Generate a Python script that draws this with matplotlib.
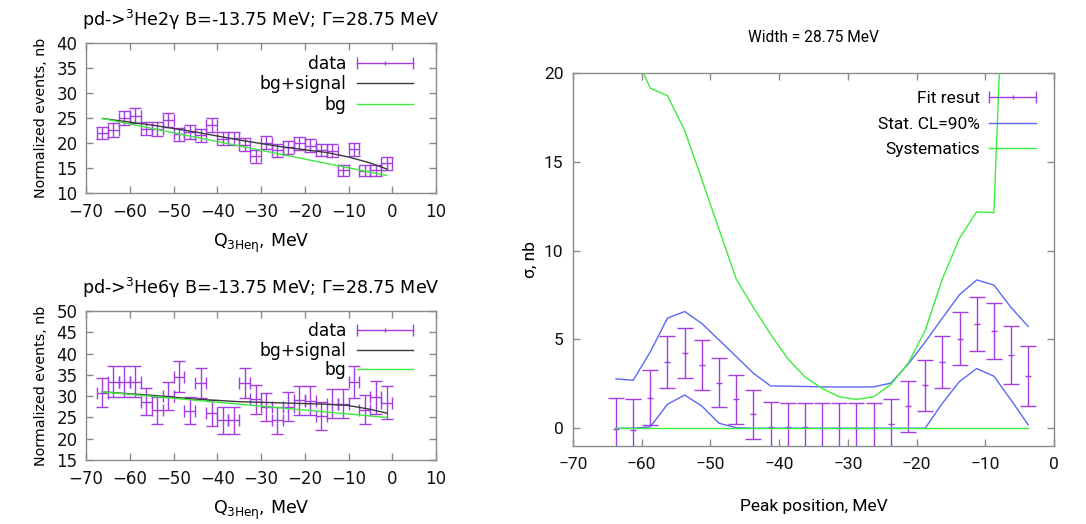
import matplotlib
matplotlib.use("Agg")
import matplotlib.pyplot as plt
from matplotlib.lines import Line2D
from matplotlib.legend_handler import HandlerLine2D, HandlerTuple

# ---------------- data ----------------
q_bins = [-66.25, -63.75, -61.25, -58.75, -56.25, -53.75, -51.25, -48.75, -46.25,
          -43.75, -41.25, -38.75, -36.25, -33.75, -31.25, -28.75, -26.25, -23.75,
          -21.25, -18.75, -16.25, -13.75, -11.25, -8.75, -6.25, -3.75, -1.25]
q_halfwidth = 1.25

he2g_vals = [22.0, 22.6, 25.0, 25.5, 22.9, 22.9, 24.6, 21.8, 22.3, 21.6, 23.6, 20.9, 21.0,
             19.7, 17.4, 20.1, 18.6, 19.2, 20.0, 19.5, 18.7, 18.5, 14.6, 18.8, 14.5, 14.6, 16.0]
he2g_err = [1.2, 1.3, 1.4, 1.5, 1.3, 1.4, 1.4, 1.3, 1.4, 1.3, 1.4, 1.3, 1.3,
            1.3, 1.3, 1.3, 1.3, 1.3, 1.3, 1.3, 1.2, 1.3, 1.1, 1.3, 1.1, 1.1, 1.3]
he2g_fit_x = [-66.25, -55.0, -45.0, -35.0, -25.0, -15.0, -10.0, -5.0, -1.25]
he2g_sig = [24.9, 23.6, 22.2, 20.6, 19.2, 18.1, 17.2, 16.0, 14.8]
he2g_bg_x = [-66.25, -1.25]
he2g_bg = [24.9, 13.5]

he6g_vals = [30.8, 33.4, 33.4, 33.4, 28.7, 26.7, 30.0, 34.6, 26.6, 33.1, 26.0, 24.3, 24.3,
             33.1, 29.3, 27.4, 24.3, 27.5, 29.0, 28.9, 25.4, 28.2, 28.2, 33.3, 26.8, 29.7, 28.5]
he6g_err = [3.4, 3.6, 3.6, 3.6, 3.2, 3.2, 3.3, 3.6, 3.2, 3.6, 3.1, 3.1, 3.1,
            3.6, 3.4, 3.3, 3.1, 3.4, 3.4, 3.4, 3.3, 3.4, 3.4, 3.7, 3.4, 3.8, 3.8]
he6g_fit_x = [-66.25, -55.0, -45.0, -35.0, -25.0, -15.0, -10.0, -5.0, -1.25]
he6g_sig = [31.0, 30.2, 29.3, 28.7, 28.4, 28.1, 27.8, 26.9, 26.0]
he6g_bg_x = [-66.25, -1.25]
he6g_bg = [31.0, 25.0]

peak_pos = [-63.75, -61.25, -58.75, -56.25, -53.75, -51.25, -48.75, -46.25, -43.75,
            -41.25, -38.75, -36.25, -33.75, -31.25, -28.75, -26.25, -23.75, -21.25,
            -18.75, -16.25, -13.75, -11.25, -8.75, -6.25, -3.75]
fit_sigma = [-0.05, -0.1, 1.72, 3.75, 4.25, 3.58, 2.57, 1.62, 0.78, 0.09, 0.06, 0.06, 0.0,
             0.0, 0.0, 0.0, 0.24, 1.23, 2.41, 3.73, 5.04, 5.88, 5.47, 4.12, 2.93]
fit_err = [1.75, 1.75, 1.55, 1.47, 1.42, 1.4, 1.4, 1.4, 1.4, 1.37, 1.37, 1.37, 1.4,
           1.4, 1.42, 1.4, 1.38, 1.43, 1.45, 1.47, 1.5, 1.51, 1.58, 1.63, 1.7]
stat_upper = [2.78, 2.70, 4.3, 6.2, 6.57, 5.9, 4.97, 4.04, 3.1, 2.38, 2.37, 2.35, 2.33,
              2.32, 2.32, 2.33, 2.54, 3.6, 4.85, 6.2, 7.52, 8.35, 8.06, 6.8, 5.73]
stat_lower = [0.0, 0.0, 0.08, 1.35, 1.87, 1.25, 0.28, 0.03, 0.0, 0.0, 0.0, 0.0, 0.0,
              0.0, 0.0, 0.0, 0.0, 0.0, 0.0, 1.4, 2.63, 3.36, 2.93, 1.59, 0.19]
syst_upper = [24.0, 21.3, 19.14, 18.72, 16.77, 14.0, 11.2, 8.4, 6.8, 5.3, 3.92, 2.89, 2.24,
              1.77, 1.62, 1.77, 2.46, 3.64, 5.5, 8.4, 10.7, 12.18, 12.14, 37.0, 60.0]
syst_lower = [0.0] * 25

# ---------------- style ----------------
W, H = 1086, 524
PURPLE = '#a23ee4'
GREEN = '#3ded3d'
BLUE = '#5b68f5'
DARK = '#3a3a3a'
SPINE = '#8a8a8a'

fig = plt.figure(figsize=(W / 100, H / 100), dpi=100)


def px_axes(l, t, r, b):
    return fig.add_axes([l / W, 1 - b / H, (r - l) / W, (b - t) / H])


def style_axes(ax, fontfamily, size):
    for s in ax.spines.values():
        s.set_color(SPINE)
        s.set_linewidth(1.0)
    ax.tick_params(direction='in', top=True, right=True, length=5, width=1,
                   color=SPINE, labelsize=size, labelcolor='#111111')
    for lab in ax.get_xticklabels() + ax.get_yticklabels():
        lab.set_family(fontfamily)


def errbar_handle():
    caps = Line2D([], [], color=PURPLE, lw=1, marker='|', markersize=8, mew=1)
    center = Line2D([], [], color=PURPLE, lw=0, marker='|', markersize=3, mew=1)
    return caps, center


def handler_map(caps, center):
    return {caps: HandlerLine2D(numpoints=2, marker_pad=0),
            center: HandlerLine2D(numpoints=1),
            tuple: HandlerTuple(ndivide=1, pad=0)}


def left_panel(ax, vals, errs, fx, fsig, bx, bbg, ylim, yticks, title, legend_top, lspace):
    ax.errorbar(q_bins, vals, yerr=errs, xerr=q_halfwidth, fmt='none', ecolor=PURPLE,
                elinewidth=1.0, capsize=4, capthick=1.0, zorder=2)
    ax.plot(fx, fsig, color=DARK, lw=1.0, zorder=3)
    ax.plot(bx, bbg, color=GREEN, lw=1.0, zorder=3)
    ax.set_xlim(-70, 10)
    ax.set_ylim(*ylim)
    ax.set_xticks([-70, -60, -50, -40, -30, -20, -10, 0, 10])
    ax.set_yticks(yticks)
    style_axes(ax, 'DejaVu Sans', 12)
    ax.tick_params(axis='x', pad=7)
    ax.tick_params(axis='y', pad=6)
    ax.set_title(title, fontsize=12.6, family='DejaVu Sans', pad=12)
    ax.set_xlabel(r'Q$_{\mathregular{3He\eta}}$, MeV', fontsize=12.5, family='DejaVu Sans', labelpad=8)
    ax.set_ylabel('Normalized events, nb', fontsize=10.3, family='DejaVu Sans', labelpad=6)
    caps, center = errbar_handle()
    h_sig = Line2D([], [], color=DARK, lw=1.0)
    h_bg = Line2D([], [], color=GREEN, lw=1.0)
    ax.legend([(caps, center), h_sig, h_bg], ['data', 'bg+signal', 'bg'],
              loc='upper right', bbox_to_anchor=(0.934, legend_top),
              frameon=False, markerfirst=False, borderpad=0, borderaxespad=0,
              handlelength=3.3, handletextpad=0.62, labelspacing=lspace,
              prop={'family': 'DejaVu Sans', 'size': 12.3},
              handler_map=handler_map(caps, center))


ax1 = px_axes(86, 43, 436, 193)
left_panel(ax1, he2g_vals, he2g_err, he2g_fit_x, he2g_sig, he2g_bg_x, he2g_bg,
           (10, 40), [10, 15, 20, 25, 30, 35, 40],
           r'pd->$^{3}$He2γ B=-13.75 MeV; Γ=28.75 MeV', 0.92, 0.14)

ax2 = px_axes(86, 311, 436, 460)
left_panel(ax2, he6g_vals, he6g_err, he6g_fit_x, he6g_sig, he6g_bg_x, he6g_bg,
           (15, 50), [15, 20, 25, 30, 35, 40, 45, 50],
           r'pd->$^{3}$He6γ B=-13.75 MeV; Γ=28.75 MeV', 0.925, 0.08)

# ---------------- right panel ----------------
ax3 = px_axes(573, 73, 1054, 446)
ax3.errorbar(peak_pos, fit_sigma, yerr=fit_err, fmt='_', color=PURPLE, markersize=4,
             mew=1.0, ecolor=PURPLE, elinewidth=1.0, capsize=6, capthick=1.0, zorder=2)
ax3.plot(peak_pos, stat_upper, color=BLUE, lw=1.0, zorder=3)
ax3.plot(peak_pos, stat_lower, color=BLUE, lw=1.0, zorder=3)
ax3.plot(peak_pos, syst_upper, color=GREEN, lw=1.0, zorder=4)
ax3.plot(peak_pos, syst_lower, color=GREEN, lw=1.0, zorder=4)
ax3.set_xlim(-70, 0)
ax3.set_ylim(-1, 20)
ax3.set_xticks([-70, -60, -50, -40, -30, -20, -10, 0])
ax3.set_yticks([0, 5, 10, 15, 20])
style_axes(ax3, 'Roboto', 12.5)
ax3.tick_params(axis='x', pad=8)
ax3.tick_params(axis='y', pad=7)
ax3.set_title('Width = 28.75 MeV', fontsize=11.2, family='Roboto', pad=22)
ax3.set_xlabel('Peak position, MeV', fontsize=12.5, family='Roboto', labelpad=19)
ax3.set_ylabel('σ, nb', fontsize=12.5, family='Roboto', labelpad=4)
caps, center = errbar_handle()
h_stat = Line2D([], [], color=BLUE, lw=1.0)
h_sys = Line2D([], [], color=GREEN, lw=1.0)
ax3.legend([(caps, center), h_stat, h_sys], ['Fit resut', 'Stat. CL=90%', 'Systematics'],
           loc='upper right', bbox_to_anchor=(0.9626, 0.952),
           frameon=False, markerfirst=False, borderpad=0, borderaxespad=0,
           handlelength=2.7, handletextpad=0.55, labelspacing=0.6,
           prop={'family': 'Roboto', 'size': 12.5},
           handler_map=handler_map(caps, center))

fig.savefig('out.png', dpi=100)
